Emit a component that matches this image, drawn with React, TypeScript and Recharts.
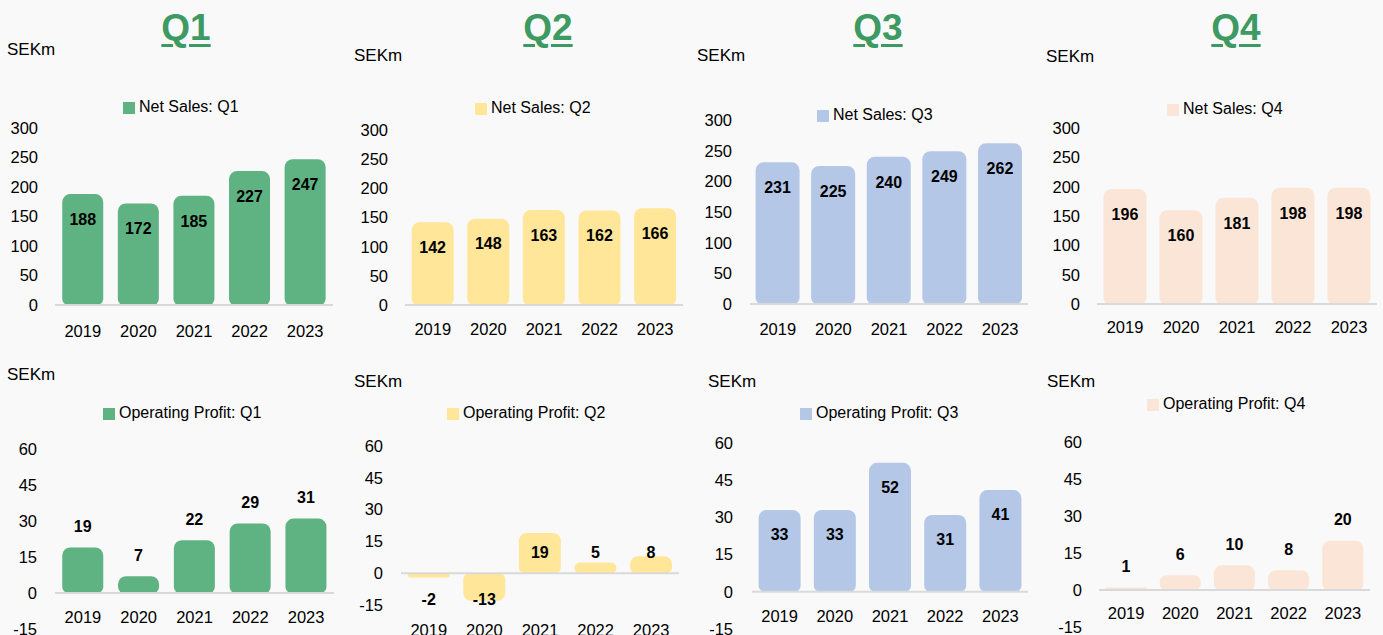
import React from 'react';
import { BarChart, Bar, XAxis, YAxis, ReferenceLine, Legend, LabelList } from 'recharts';

const years = ['2019', '2020', '2021', '2022', '2023'];
const quarters = ['Q1', 'Q2', 'Q3', 'Q4'];

const netSalesQ1 = [188, 172, 185, 227, 247];
const netSalesQ2 = [142, 148, 163, 162, 166];
const netSalesQ3 = [231, 225, 240, 249, 262];
const netSalesQ4 = [196, 160, 181, 198, 198];

const opProfitQ1 = [19, 7, 22, 29, 31];
const opProfitQ2 = [-2, -13, 19, 5, 8];
const opProfitQ3 = [33, 33, 52, 31, 41];
const opProfitQ4 = [1, 6, 10, 8, 20];

const salesTicks = [0, 50, 100, 150, 200, 250, 300];
const profitTicks = [-15, 0, 15, 30, 45, 60];

const quarterColors = ['#5fb382', '#ffe699', '#b4c7e7', '#fbe5d6'];

const W = 1383;
const H = 680;
const XH = 30;
const YW = 40;
const FONT = '"Liberation Sans", Arial, sans-serif';

type Panel = {
  name: string;
  values: number[];
  color: string;
  ticks: number[];
  plotLeft: number;
  plotRight: number;
  yTop: number;
  yBottom: number;
  tickRight: number;
  xLabelY: number;
  legendX: number;
  legendY: number;
  unitX: number;
  unitY: number;
  mode: string;
  gap: string;
};

// layout of each small chart, in page pixels
const panels: Panel[] = [
  { name: 'Net Sales: Q1', values: netSalesQ1, color: quarterColors[0], ticks: salesTicks, plotLeft: 55, plotRight: 333, yTop: 128, yBottom: 305, tickRight: 38, xLabelY: 331, legendX: 123, legendY: 107, unitX: 7, unitY: 50, mode: 'inside', gap: '13%' },
  { name: 'Net Sales: Q2', values: netSalesQ2, color: quarterColors[1], ticks: salesTicks, plotLeft: 405, plotRight: 683, yTop: 130, yBottom: 305, tickRight: 388, xLabelY: 329, legendX: 475, legendY: 108, unitX: 354, unitY: 56, mode: 'inside', gap: '12%' },
  { name: 'Net Sales: Q3', values: netSalesQ3, color: quarterColors[2], ticks: salesTicks, plotLeft: 750, plotRight: 1028, yTop: 120, yBottom: 304, tickRight: 732, xLabelY: 329, legendX: 817, legendY: 115, unitX: 697, unitY: 56, mode: 'inside', gap: '10%' },
  { name: 'Net Sales: Q4', values: netSalesQ4, color: quarterColors[3], ticks: salesTicks, plotLeft: 1097, plotRight: 1377, yTop: 128, yBottom: 304, tickRight: 1080, xLabelY: 327.5, legendX: 1167, legendY: 109, unitX: 1046, unitY: 57, mode: 'inside', gap: '11.5%' },
  { name: 'Operating Profit: Q1', values: opProfitQ1, color: quarterColors[0], ticks: profitTicks, plotLeft: 55, plotRight: 334, yTop: 449, yBottom: 629, tickRight: 37, xLabelY: 617, legendX: 103, legendY: 413, unitX: 7, unitY: 375, mode: 'above', gap: '13%' },
  { name: 'Operating Profit: Q2', values: opProfitQ2, color: quarterColors[1], ticks: profitTicks, plotLeft: 401, plotRight: 679, yTop: 446, yBottom: 605, tickRight: 383, xLabelY: 630, legendX: 447, legendY: 413, unitX: 354, unitY: 382, mode: 'excel', gap: '12%' },
  { name: 'Operating Profit: Q3', values: opProfitQ3, color: quarterColors[2], ticks: profitTicks, plotLeft: 752, plotRight: 1028, yTop: 443, yBottom: 629, tickRight: 733, xLabelY: 616, legendX: 800, legendY: 413, unitX: 708, unitY: 382, mode: 'insideOp', gap: '12%' },
  { name: 'Operating Profit: Q4', values: opProfitQ4, color: quarterColors[3], ticks: profitTicks, plotLeft: 1099, plotRight: 1370, yTop: 442, yBottom: 627, tickRight: 1082, xLabelY: 613.5, legendX: 1147, legendY: 404, unitX: 1047, unitY: 382, mode: 'above', gap: '12%' },
];

const titleCenters = [186, 548, 878, 1236];

// data label placement, mimicking Excel's inside end / outside end
const makeLabel = (mode: string) => (props: any) => {
  const vb = props.viewBox ?? props;
  const { x, y, width, height } = vb;
  const value = props.value;
  const lo = Math.min(y, y + height);
  const hi = Math.max(y, y + height);
  let cy: number;
  if (mode === 'inside') cy = lo + 25;
  else if (mode === 'insideOp') cy = lo + 24;
  else if (mode === 'above') cy = lo - 21.5;
  else cy = value >= 0 ? Math.min(lo + 20, hi - 21) : lo + 26;
  return (
    <text
      x={x + width / 2}
      y={cy + 5.8}
      textAnchor="middle"
      fontFamily={FONT}
      fontWeight="bold"
      fontSize={16}
      fill="#000"
    >
      {value}
    </text>
  );
};

const SmallChart = ({ p }: { p: Panel }) => {
  const data = years.map((year, i) => ({ year, value: p.values[i] }));
  return (
    <div style={{ position: 'absolute', left: 0, top: 0 }}>
      <BarChart
        width={W}
        height={H}
        data={data}
        barCategoryGap={p.gap}
        margin={{ top: p.yTop, left: p.plotLeft - YW, right: W - p.plotRight, bottom: H - p.yBottom - XH }}
      >
        <XAxis
          dataKey="year"
          height={XH}
          axisLine={false}
          tickLine={false}
          tickSize={0}
          interval={0}
          tickMargin={p.xLabelY - p.yBottom - 5.8}
          tick={{ fill: '#000', fontSize: 16.5, fontFamily: FONT }}
        />
        <YAxis
          width={YW}
          domain={[p.ticks[0], p.ticks[p.ticks.length - 1]]}
          ticks={p.ticks}
          interval={0}
          axisLine={false}
          tickLine={false}
          tickSize={0}
          tickMargin={p.plotLeft - p.tickRight}
          tick={{ fill: '#000', fontSize: 16.5, fontFamily: FONT }}
        />
        <Legend
          layout="vertical"
          align="center"
          verticalAlign="middle"
          iconType="square"
          iconSize={12}
          wrapperStyle={{ left: p.legendX, top: p.legendY - 10, width: 260, lineHeight: '20px', fontSize: 16, fontFamily: FONT }}
          formatter={(v: string) => <span style={{ color: '#000' }}>{v}</span>}
        />
        <Bar dataKey="value" name={p.name} fill={p.color} radius={[8, 8, 6, 6]} isAnimationActive={false}>
          <LabelList dataKey="value" content={makeLabel(p.mode)} />
        </Bar>
        <ReferenceLine y={0} stroke="#d9d9d9" strokeWidth={2} />
      </BarChart>
      <div
        style={{
          position: 'absolute',
          left: p.unitX,
          top: p.unitY - 10,
          lineHeight: '20px',
          fontSize: 17,
          fontFamily: FONT,
          color: '#000',
        }}
      >
        SEKm
      </div>
    </div>
  );
};

export default function App() {
  return (
    <div
      style={{
        position: 'absolute',
        left: 0,
        top: 0,
        width: W,
        height: 635,
        overflow: 'hidden',
        background: '#f9f9f9',
        fontFamily: FONT,
      }}
    >
      {panels.map((p) => (
        <SmallChart key={p.name} p={p} />
      ))}
      {quarters.map((q, i) => (
        <div
          key={q}
          style={{
            position: 'absolute',
            left: titleCenters[i] - 60,
            top: 8,
            width: 120,
            textAlign: 'center',
            lineHeight: '40px',
            fontSize: 37,
            fontWeight: 'bold',
            color: '#3e9a63',
            textDecoration: 'underline',
            textDecorationThickness: '3px',
            textUnderlineOffset: '4px',
          }}
        >
          {q}
        </div>
      ))}
    </div>
  );
}
